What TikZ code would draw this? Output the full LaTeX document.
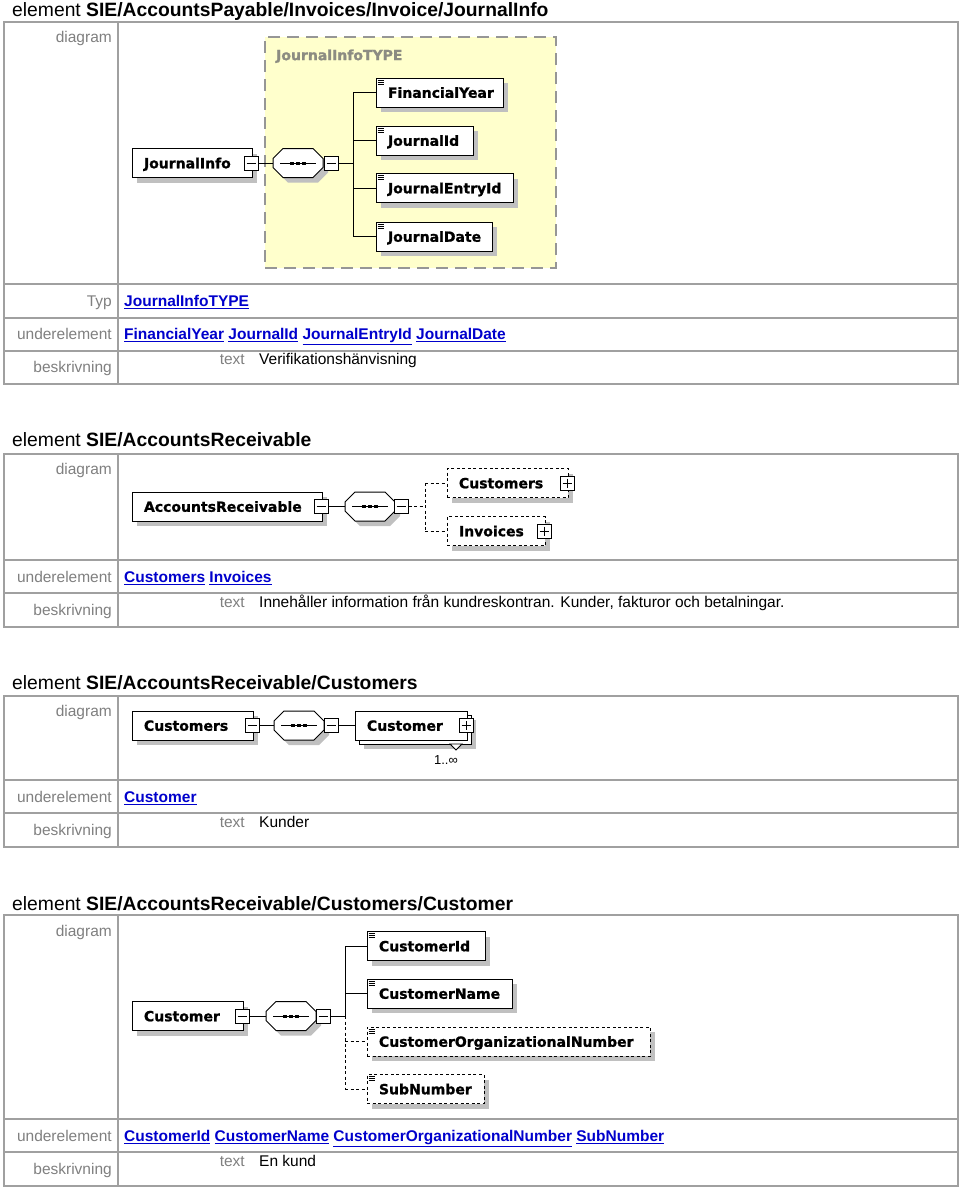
\documentclass[tikz,border=0pt]{standalone}
\usepackage{fontspec}
\setmainfont{Liberation Sans}
\newfontfamily\dvs{DejaVu Sans}[BoldFeatures={FakeBold=1.2}]
\usetikzlibrary{shadows,calc}
\definecolor{lnk}{RGB}{0,0,204}
\definecolor{lbl}{RGB}{128,128,128}
\definecolor{tbl}{RGB}{160,160,160}
\definecolor{ylw}{RGB}{255,255,204}
\definecolor{shd}{RGB}{192,192,192}
\definecolor{tdash}{RGB}{150,150,150}
\definecolor{tlbl}{RGB}{140,140,130}
\newcommand\lnk[1]{\textcolor{lnk}{\bfseries\underline{#1}}}
\newcommand\seqshape[1]{%
  \fill[shd] ([shift={(5,5)}]#1.center) +(-15,-14.5) -- +(15,-14.5) -- +(25,-4.5) -- +(25,4.5) -- +(15,14.5) -- +(-15,14.5) -- +(-25,4.5) -- +(-25,-4.5) -- cycle;
  \draw[line width=1pt,fill=white] (#1.center) +(-15,-14.5) -- +(15,-14.5) -- +(25,-4.5) -- +(25,4.5) -- +(15,14.5) -- +(-15,14.5) -- +(-25,4.5) -- +(-25,-4.5) -- cycle;
  \draw[line width=1pt] (#1.center) +(-18,0) -- +(18,0);
  \foreach \dx in {-6,0,6} \fill ([shift={(\dx-2,-1.5)}]#1.center) rectangle ++(4,3);
}
\newcommand\minusmark[1]{\draw[line width=1pt] (#1.center) +(-4.5,0) -- +(4.5,0);}
\newcommand\plusmark[1]{\draw[line width=1pt] (#1.center) +(-4.5,0) -- +(4.5,0) (#1.center) +(0,-4.5) -- +(0,4.5);}
\newcommand\docicon[1]{\draw[line width=0.8pt] (#1.north west) +(2,2.5) -- +(8,2.5) +(2,4.5) -- +(8,4.5) +(2,6.5) -- +(8,6.5);}
\tikzset{
  hd/.style={anchor=mid west, inner sep=0pt, yshift=-2.5pt, font=\fontsize{19.3}{22}\selectfont},
  lb/.style={anchor=mid east, inner sep=0pt, yshift=-3pt, text=lbl, font=\fontsize{15.5}{18}\selectfont},
  val/.style={anchor=mid west, inner sep=0pt, yshift=-3pt, font=\fontsize{15.5}{18}\selectfont},
  cell/.style={draw=tbl, line width=1.6pt},
  elbase/.style={rectangle, draw=black, line width=1pt, fill=white, minimum height=29pt, inner xsep=12pt, inner ysep=0pt, text height=10.5pt, text depth=0pt, align=left, font=\dvs\bfseries\fontsize{14}{16}\selectfont},
  elbox/.style={elbase, general shadow={fill=shd, shadow xshift=5pt, shadow yshift=-5pt}},
  optbox/.style={elbox, dash pattern=on 3pt off 2.5pt},
  multbox/.style={elbase, general shadow={fill=shd, shadow xshift=9pt, shadow yshift=-9pt}, general shadow={fill=white, draw=black, line width=1pt, shadow xshift=4pt, shadow yshift=-4pt}},
  btn/.style={rectangle, draw=black, line width=1pt, fill=white, minimum size=14pt, inner sep=0pt},
  seqnode/.style={rectangle, minimum width=50pt, minimum height=29pt, inner sep=0pt},
  conn/.style={line width=1pt},
  optconn/.style={line width=1pt, dash pattern=on 3pt off 2.5pt},
  typebox/.style={rectangle, draw=tdash, line width=1.5pt, dash pattern=on 12pt off 7pt, fill=ylw, inner sep=0pt},
  typelbl/.style={anchor=mid west, inner sep=0pt, text=tlbl, font=\dvs\bfseries\fontsize{14}{16}\selectfont},
  mult/.style={inner sep=0pt, font=\fontsize{13}{15}\selectfont},
}
\begin{document}
\begin{tikzpicture}[x=1pt,y=-1pt]
\useasboundingbox[fill=white] (0,0) rectangle (960,1187);

% ---------------- Table 1 ----------------
\node[hd] (h1) at (12,11) {element \textbf{SIE/AccountsPayable/Invoices/Invoice/JournalInfo}};
\draw[cell] (4,22) rectangle (958,384);
\draw[cell] (118,22) -- (118,384);
\draw[cell] (4,284) -- (958,284) (4,318) -- (958,318) (4,351) -- (958,351);
\node[lb] (l1a) at (112,37) {diagram};
\node[lb] (l1b) at (112,301) {Typ};
\node[lb] (l1c) at (112,334) {underelement};
\node[lb] (l1d) at (112,367) {beskrivning};
\node[val] (v1b) at (124,301) {\lnk{JournalInfoTYPE}};
\node[val] (v1c) at (124,334) {\lnk{FinancialYear} \lnk{JournalId} \lnk{JournalEntryId} \lnk{JournalDate}};
\node[lb] (t1) at (245,359) {text};
\node[val] (v1d) at (259,359) {Verifikationshänvisning};

% diagram 1
\node[typebox, minimum width=291pt, minimum height=231pt] (tb) at (410.5,152.5) {};
\node[typelbl] (tbl) at (276,57.5) {JournalInfoTYPE};
\node[elbox, text width=96pt] (ji) at (192,163) {JournalInfo};
\node[btn] (b1) at (251,163) {};
\minusmark{b1}
\node[seqnode] (s1) at (298,163) {};
\seqshape{s1}
\node[btn] (sb1) at (331,163) {};
\minusmark{sb1}
\coordinate (j1) at (353,163);
\node[elbox, text width=103pt] (fy) at (439.5,92.5) {FinancialYear};
\node[elbox, text width=73pt] (jid) at (424.5,140.5) {JournalId};
\node[elbox, text width=113pt] (jeid) at (444.5,188) {JournalEntryId};
\node[elbox, text width=92pt] (jd) at (434,236.5) {JournalDate};
\docicon{fy}\docicon{jid}\docicon{jeid}\docicon{jd}
\draw[conn] (b1.east) -- (s1.west);
\draw[conn] (sb1.east) -- (j1);
\draw[conn] (j1 |- fy.west) -- (j1 |- jd.west);
\foreach \n in {fy,jid,jeid,jd} \draw[conn] (j1 |- \n.west) -- (\n.west);

% ---------------- Table 2 ----------------
\node[hd] (h2) at (12,441) {element \textbf{SIE/AccountsReceivable}};
\draw[cell] (4,454) rectangle (958,627);
\draw[cell] (118,454) -- (118,627);
\draw[cell] (4,560) -- (958,560) (4,593) -- (958,593);
\node[lb] (l2a) at (112,469) {diagram};
\node[lb] (l2c) at (112,577) {underelement};
\node[lb] (l2d) at (112,610) {beskrivning};
\node[val] (v2c) at (124,577) {\lnk{Customers} \lnk{Invoices}};
\node[lb] (t2) at (245,602) {text};
\node[val] (v2d) at (259,602) {Innehåller information från kundreskontran. Kunder, fakturor och betalningar.};

% diagram 2
\node[elbox, text width=166pt] (ar) at (227,506.5) {AccountsReceivable};
\node[btn] (b2) at (321,506.5) {};
\minusmark{b2}
\node[seqnode] (s2) at (370,506.5) {};
\seqshape{s2}
\node[btn] (sb2) at (401,506.5) {};
\minusmark{sb2}
\coordinate (j2) at (425,506.5);
\node[optbox, text width=97pt] (cust) at (507.5,483) {Customers};
\node[btn] (pc) at (567,483) {};
\plusmark{pc}
\node[optbox, text width=74pt] (inv) at (496,531) {Invoices};
\node[btn] (pi) at (544,531) {};
\plusmark{pi}
\draw[conn] (b2.east) -- (s2.west);
\draw[optconn] (sb2.east) -- (j2);
\draw[optconn] (j2 |- cust.west) -- (j2 |- inv.west);
\draw[optconn] (j2 |- cust.west) -- (cust.west);
\draw[optconn] (j2 |- inv.west) -- (inv.west);

% ---------------- Table 3 ----------------
\node[hd] (h3) at (12,684) {element \textbf{SIE/AccountsReceivable/Customers}};
\draw[cell] (4,696) rectangle (958,847);
\draw[cell] (118,696) -- (118,847);
\draw[cell] (4,780) -- (958,780) (4,813) -- (958,813);
\node[lb] (l3a) at (112,711) {diagram};
\node[lb] (l3c) at (112,797) {underelement};
\node[lb] (l3d) at (112,830) {beskrivning};
\node[val] (v3c) at (124,797) {\lnk{Customer}};
\node[lb] (t3) at (245,822) {text};
\node[val] (v3d) at (259,822) {Kunder};

% diagram 3
\node[elbox, text width=97pt] (cs) at (192.5,725.5) {Customers};
\node[btn] (b3) at (252,725.5) {};
\minusmark{b3}
\node[seqnode] (s3) at (299,725.5) {};
\seqshape{s3}
\node[btn] (sb3) at (331,725.5) {};
\minusmark{sb3}
\node[multbox, text width=88pt] (cu) at (411,725.5) {Customer};
\node[btn] (pcu) at (466,725.5) {};
\plusmark{pcu}
\draw[line width=0.8pt, fill=white] (450,744) -- (462,744) -- (456,750) -- cycle;
\node[mult] (m3) at (446,760) {1..∞};
\draw[conn] (b3.east) -- (s3.west);
\draw[conn] (sb3.east) -- (cu.west);

% ---------------- Table 4 ----------------
\node[hd] (h4) at (12,905) {element \textbf{SIE/AccountsReceivable/Customers/Customer}};
\draw[cell] (4,915) rectangle (958,1186);
\draw[cell] (118,915) -- (118,1186);
\draw[cell] (4,1119) -- (958,1119) (4,1152) -- (958,1152);
\node[lb] (l4a) at (112,931) {diagram};
\node[lb] (l4c) at (112,1136) {underelement};
\node[lb] (l4d) at (112,1169) {beskrivning};
\node[val] (v4c) at (124,1136) {\lnk{CustomerId} \lnk{CustomerName} \lnk{CustomerOrganizationalNumber} \lnk{SubNumber}};
\node[lb] (t4) at (245,1161) {text};
\node[val] (v4d) at (259,1161) {En kund};

% diagram 4
\node[elbox, text width=87pt] (c4) at (187.5,1016) {Customer};
\node[btn] (b4) at (242,1016) {};
\minusmark{b4}
\node[seqnode] (s4) at (291,1016) {};
\seqshape{s4}
\node[btn] (sb4) at (323,1016) {};
\minusmark{sb4}
\coordinate (j4) at (345,1016);
\node[elbox, text width=94pt] (cid) at (426,946) {CustomerId};
\node[elbox, text width=121pt] (cname) at (439.5,993.5) {CustomerName};
\node[optbox, text width=259pt] (corg) at (508.5,1041.5) {CustomerOrganizationalNumber};
\node[optbox, text width=93pt] (sub) at (425.5,1089) {SubNumber};
\docicon{cid}\docicon{cname}\docicon{corg}\docicon{sub}
\draw[conn] (b4.east) -- (s4.west);
\draw[conn] (sb4.east) -- (j4);
\draw[conn] (j4) -- (j4 |- cid.west);
\draw[optconn] (j4) -- (j4 |- sub.west);
\draw[conn] (j4 |- cid.west) -- (cid.west);
\draw[conn] (j4 |- cname.west) -- (cname.west);
\draw[optconn] (j4 |- corg.west) -- (corg.west);
\draw[optconn] (j4 |- sub.west) -- (sub.west);
\end{tikzpicture}
\end{document}
